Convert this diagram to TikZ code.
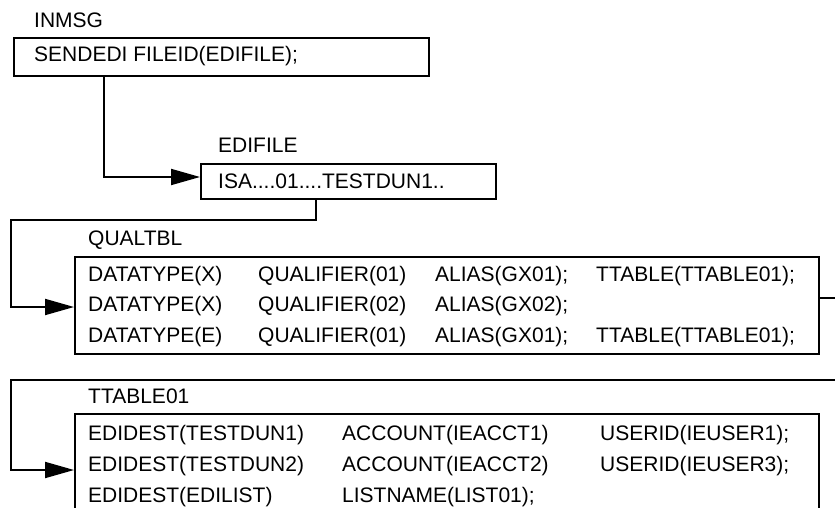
\documentclass[tikz,border=0pt]{standalone}
\usepackage{fontspec}
\setmainfont{Liberation Sans}
\usetikzlibrary{arrows.meta}
\tikzset{
  box/.style={draw=black, line width=2pt, anchor=north west, inner sep=0pt},
  conn/.style={draw=black, line width=2pt},
  arr/.style={conn, -{Triangle[length=29pt,width=16pt]}},
  lbl/.style={anchor=west, inner sep=0pt, font=\fontsize{21}{21}\selectfont},
}
\begin{document}
\begin{tikzpicture}[x=1pt, y=-1pt]
\clip (0,0) rectangle (835,508);
\fill[white] (0,0) rectangle (835,508);
% INMSG
\node[lbl] (l1) at (34,20) {INMSG};
\node[box, minimum width=415pt, minimum height=38pt] (inmsg) at (13,37) {};
\node[lbl] (t1) at (34,56) {SENDEDI FILEID(EDIFILE);};
% EDIFILE
\node[lbl] (l2) at (218,145) {EDIFILE};
\node[box, minimum width=295pt, minimum height=35pt] (edifile) at (200,163) {};
\node[lbl] (t2) at (218,181) {ISA....01....TESTDUN1..};
% QUALTBL
\node[lbl] (l3) at (88,240) {QUALTBL};
\node[box, minimum width=744pt, minimum height=97pt] (qualtbl) at (74,256) {};
\node[lbl] (q11) at (88,276) {DATATYPE(X)};
\node[lbl] (q12) at (258,276) {QUALIFIER(01)};
\node[lbl] (q13) at (435,276) {ALIAS(GX01);};
\node[lbl] (q14) at (596,276) {TTABLE(TTABLE01);};
\node[lbl] (q21) at (88,306) {DATATYPE(X)};
\node[lbl] (q22) at (258,306) {QUALIFIER(02)};
\node[lbl] (q23) at (435,306) {ALIAS(GX02);};
\node[lbl] (q31) at (88,337) {DATATYPE(E)};
\node[lbl] (q32) at (258,337) {QUALIFIER(01)};
\node[lbl] (q33) at (435,337) {ALIAS(GX01);};
\node[lbl] (q34) at (596,337) {TTABLE(TTABLE01);};
% TTABLE01
\node[lbl] (l4) at (88,396) {TTABLE01};
\node[box, minimum width=744pt, minimum height=120pt] (ttable) at (74,413) {};
\node[lbl] (r11) at (88,435) {EDIDEST(TESTDUN1)};
\node[lbl] (r12) at (342,435) {ACCOUNT(IEACCT1)};
\node[lbl] (r13) at (600,435) {USERID(IEUSER1);};
\node[lbl] (r21) at (88,466) {EDIDEST(TESTDUN2)};
\node[lbl] (r22) at (342,466) {ACCOUNT(IEACCT2)};
\node[lbl] (r23) at (600,466) {USERID(IEUSER3);};
\node[lbl] (r31) at (88,497) {EDIDEST(EDILIST)};
\node[lbl] (r32) at (342,497) {LISTNAME(LIST01);};
% connectors
\coordinate (c1) at (104,177);
\draw[arr] (inmsg.south -| c1) -- (c1) -- (edifile.west |- c1);
\coordinate (c2a) at (316,220);
\coordinate (c2b) at (11,307);
\draw[arr] (edifile.south -| c2a) -- (c2a) -- (c2a -| c2b) -- (c2b) -- (qualtbl.west |- c2b);
\coordinate (off1) at (840,298);
\draw[conn] (qualtbl.east |- off1) -- (off1);
\coordinate (off2) at (840,380);
\coordinate (c4) at (11,470);
\draw[arr] (off2) -- (off2 -| c4) -- (c4) -- (ttable.west |- c4);
\end{tikzpicture}
\end{document}
